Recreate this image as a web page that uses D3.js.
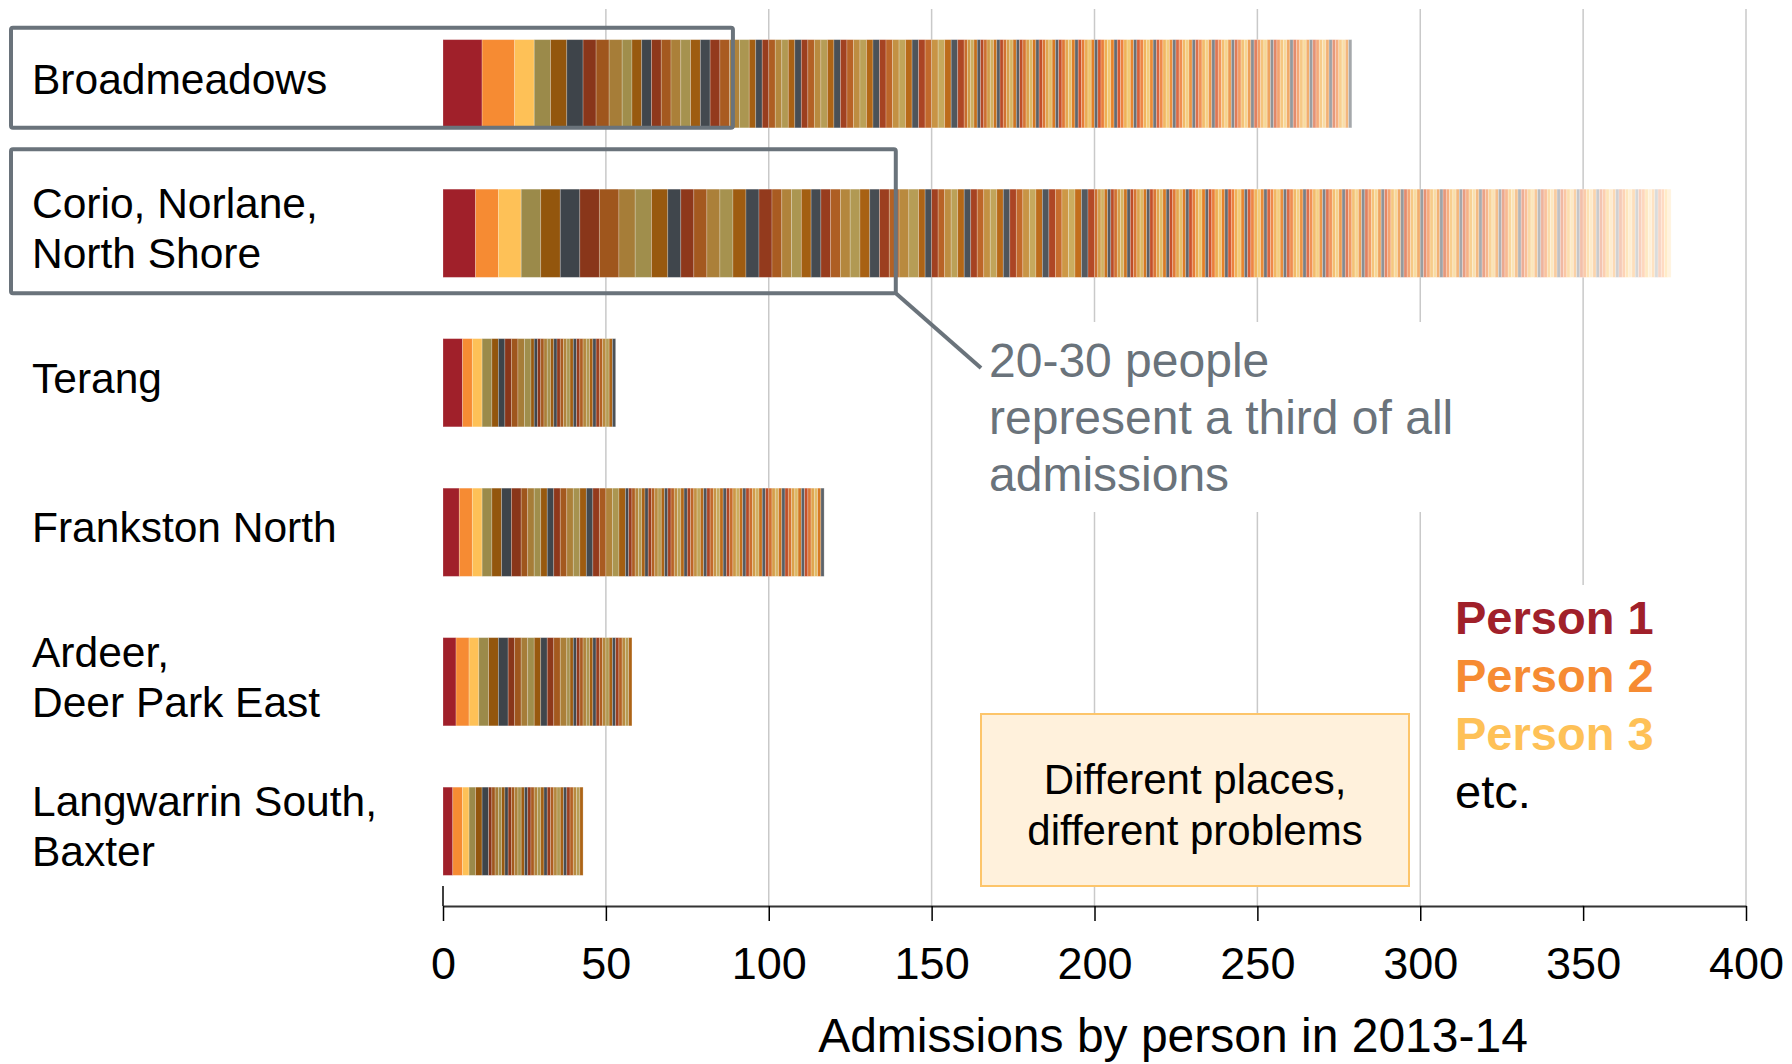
<!DOCTYPE html>
<html>
<head>
<meta charset="utf-8">
<script src="https://cdn.jsdelivr.net/npm/d3@7"></script>
<style>
  html, body { margin: 0; padding: 0; background: #fff; }
  svg { display: block; font-family: "Liberation Sans", Arial, Helvetica, sans-serif; }
</style>
</head>
<body>
<svg id="chart" width="1792" height="1064"></svg>
<script>
// Areas, top to bottom, and how each label breaks over lines
const areas = ["Broadmeadows", "Corio, Norlane, North Shore", "Terang", "Frankston North", "Ardeer, Deer Park East", "Langwarrin South, Baxter"];
const areaLabelLines = [["Broadmeadows"], ["Corio, Norlane,", "North Shore"], ["Terang"], ["Frankston North"], ["Ardeer,", "Deer Park East"], ["Langwarrin South,", "Baxter"]];

// Admissions per person in 2013-14, largest first, as [admissions, number of people]
const broadmeadows = [[12, 1], [10, 1], [6, 1], [5, 3], [4, 3], [3, 13], [2, 33], [1, 119]];
const corio        = [[10, 1], [7, 2], [6, 5], [5, 3], [4, 8], [3, 15], [2, 27], [1, 177]];
const terang       = [[6, 1], [3, 3], [2, 6], [1, 26]];
const frankston    = [[5, 1], [4, 1], [3, 5], [2, 16], [1, 61]];
const ardeer       = [[4, 2], [3, 4], [2, 9], [1, 20]];
const langwarrin   = [[3, 2], [2, 4], [1, 29]];
const admissionRuns = [broadmeadows, corio, terang, frankston, ardeer, langwarrin];

const xTicks = [0, 50, 100, 150, 200, 250, 300, 350, 400];
const xTitle = "Admissions by person in 2013-14";

const legendItems = ["Person 1", "Person 2", "Person 3", "etc."];
const noteLines = ["20-30 people", "represent a third of all", "admissions"];
const boxLines = ["Different places,", "different problems"];

// Highlighted areas and the admissions their top 20-30 people account for
const highlightAreas = ["Broadmeadows", "Corio, Norlane, North Shore"];
const highlightTo = [89, 139];

// ---- colours ----
const firstColors = ["#a0202a", "#f68b33", "#fec157"];
const gridColor = "#c9c9c9";
const noteColor = "#6a737b";
// After the first three people the palette cycles; each hue runs from a dark
// shade (top-ranked people) through full colour to a pale tint (lowest-ranked).
const shadeRanks = [3, 100, 237];
const cycleShades = [
  ["#9b8a4a", "#f2c870", "#fff3de"],
  ["#92560d", "#e88228", "#ffe6c8"],
  ["#3d4349", "#646a70", "#dedede"],
  ["#873519", "#d45830", "#f9d8c8"],
  ["#9c541c", "#ec803c", "#ffdcc4"],
  ["#a27a36", "#f0b054", "#ffecc8"]
];
const shadeScales = cycleShades.map(stops =>
  d3.scaleLinear().domain(shadeRanks).range(stops).interpolate(d3.interpolateRgb).clamp(true));
function personColor(rank) {
  if (rank < firstColors.length) return firstColors[rank];
  return shadeScales[(rank - firstColors.length) % cycleShades.length](rank);
}

// ---- layout ----
const svg = d3.select("#chart");
const x = d3.scaleLinear().domain([0, 400]).range([443, 1746]);
const y = d3.scaleBand().domain(areas).range([9, 906]).paddingInner(0.41).paddingOuter(0.205);
const axisY = 906;

// Expand runs into one segment per person
const segments = [];
areas.forEach((area, i) => {
  let cum = 0, rank = 0;
  admissionRuns[i].forEach(([adm, count]) => {
    for (let k = 0; k < count; k++) {
      segments.push({ area, rank, start: cum, end: cum + adm });
      cum += adm; rank++;
    }
  });
});

// Vertical gridlines
svg.append("g").selectAll("line").data(xTicks.slice(1)).join("line")
  .attr("x1", d => x(d)).attr("x2", d => x(d))
  .attr("y1", 9).attr("y2", axisY)
  .attr("stroke", gridColor).attr("stroke-width", 1.5);

// White backing behind the note and the legend
svg.append("rect").attr("x", 978).attr("y", 322).attr("width", 492).attr("height", 190).attr("fill", "#fff");
svg.append("rect").attr("x", 1440).attr("y", 585).attr("width", 290).attr("height", 320).attr("fill", "#fff");

// Call-out box
svg.append("rect").attr("x", 981).attr("y", 714).attr("width", 428).attr("height", 172)
  .attr("fill", "#fff1dc").attr("stroke", "#fdc56a").attr("stroke-width", 2);
svg.append("g").selectAll("text").data(boxLines).join("text")
  .attr("x", 1195).attr("y", (d, i) => 794 + i * 51)
  .attr("text-anchor", "middle").attr("font-size", 42).attr("fill", "#000")
  .text(d => d);

// Stacked bars, one segment per person
svg.append("g").selectAll("rect").data(segments).join("rect")
  .attr("x", d => x(d.start))
  .attr("width", d => x(d.end) - x(d.start))
  .attr("y", d => y(d.area))
  .attr("height", y.bandwidth())
  .attr("fill", d => personColor(d.rank))
  .attr("stroke", "#fff").attr("stroke-opacity", 0.28).attr("stroke-width", 0.8);

// Area labels
const labelG = svg.append("g").attr("font-size", 42.5).attr("fill", "#000");
areas.forEach((area, i) => {
  const lines = areaLabelLines[i];
  const mid = y(area) + y.bandwidth() / 2 + 10;
  lines.forEach((line, j) => {
    labelG.append("text")
      .attr("x", 32)
      .attr("y", mid + (j - (lines.length - 1) / 2) * 50)
      .text(line);
  });
});

// Highlight frames around the two areas
const frameG = svg.append("g").attr("fill", "none").attr("stroke", noteColor).attr("stroke-width", 4);
highlightAreas.forEach((area, i) => {
  const twoLine = areaLabelLines[areas.indexOf(area)].length > 1;
  const top = y(area) - (twoLine ? 40 : 12);
  const bottom = y(area) + y.bandwidth() + (twoLine ? 16 : 0);
  frameG.append("rect")
    .attr("x", 11).attr("y", top)
    .attr("width", x(highlightTo[i]) - 11).attr("height", bottom - top)
    .attr("rx", 2);
});
const corioArea = highlightAreas[1];
svg.append("line")
  .attr("x1", x(highlightTo[1])).attr("y1", y(corioArea) + y.bandwidth() + 16)
  .attr("x2", 981).attr("y2", 368)
  .attr("stroke", noteColor).attr("stroke-width", 4);

// Note text
svg.append("g").selectAll("text").data(noteLines).join("text")
  .attr("x", 989).attr("y", (d, i) => 377 + i * 57)
  .attr("font-size", 48).attr("fill", noteColor)
  .text(d => d);

// Legend
svg.append("g").selectAll("text").data(legendItems).join("text")
  .attr("x", 1455).attr("y", (d, i) => 634 + i * 58)
  .attr("font-size", 47)
  .attr("font-weight", (d, i) => i < firstColors.length ? "bold" : "normal")
  .attr("fill", (d, i) => i < firstColors.length ? firstColors[i] : "#000")
  .text(d => d);

// X axis
const axis = svg.append("g").attr("transform", `translate(0,${axisY})`)
  .call(d3.axisBottom(x).tickValues(xTicks).tickSize(15).tickSizeOuter(0).tickPadding(26));
axis.select(".domain").attr("stroke", "#333").attr("stroke-width", 2.2);
axis.selectAll(".tick line").attr("stroke", "#000").attr("stroke-width", 1.5);
axis.selectAll(".tick text").attr("font-size", 45).attr("fill", "#000")
  .attr("font-family", "\"Liberation Sans\", Arial, sans-serif");
svg.append("line")
  .attr("x1", x(0)).attr("x2", x(0)).attr("y1", axisY - 20).attr("y2", axisY)
  .attr("stroke", "#000").attr("stroke-width", 1.5);

svg.append("text")
  .attr("x", 1173).attr("y", 1052)
  .attr("text-anchor", "middle").attr("font-size", 48).attr("fill", "#000")
  .text(xTitle);
</script>
</body>
</html>
